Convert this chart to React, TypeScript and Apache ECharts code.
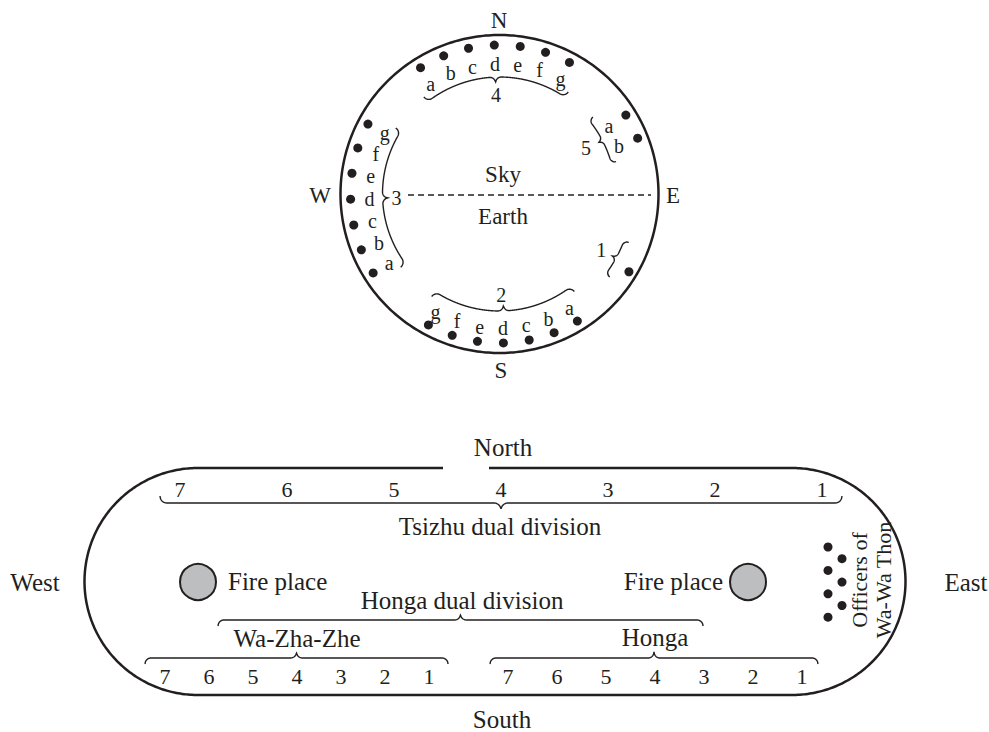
import React, { useEffect, useRef } from "react";
import * as echarts from "echarts";

// ---------------- data ----------------
const compassLetters = ["N", "E", "S", "W"];
const zoneLabels = ["Sky", "Earth"];
const bandLetters = ["a", "b", "c", "d", "e", "f", "g"];
const groupNames = ["1", "2", "3", "4", "5"];
// angular positions (degrees, counter-clockwise from East) of the dots, listed a, b, c ...
const group1Angles = [-31];
const group2Angles = [301.5, 291.5, 281.5, 271.5, 261.5, 251.5, 241.5];
const group3Angles = [212, 202, 192, 182, 172, 162, 152];
const group4Angles = [122, 112, 102, 92, 82, 72, 62];
const group5Angles = [32, 22];

const sideLabels = ["North", "South", "West", "East"];
const tsizhuClans = ["7", "6", "5", "4", "3", "2", "1"];
const wazhazheClans = ["7", "6", "5", "4", "3", "2", "1"];
const hongaClans = ["7", "6", "5", "4", "3", "2", "1"];
const divisionLabels = ["Tsizhu dual division", "Honga dual division", "Wa-Zha-Zhe", "Honga"];
const firePlaceLabel = "Fire place";
const officersLabels = ["Officers of", "Wa-Wa Thon"];
const officerCount = 7;

// ---------------- layout ----------------
const W = 989;
const H = 732;
const FONT = '"Liberation Serif", "DejaVu Serif", serif';
const INK = "#231f20";
const C = { x: 499.5, y: 194, r: 159 };
const rad = (d: number) => (d * Math.PI) / 180;
const polar = (r: number, deg: number): number[] => [C.x + r * Math.cos(rad(deg)), C.y - r * Math.sin(rad(deg))];

function braceOffset(d: number, L: number, rho: number) {
  const half = L / 2;
  const dd = Math.min(d, L - d);
  if (dd < rho) return -(rho - Math.sqrt(Math.max(0, rho * rho - (rho - dd) * (rho - dd))));
  if (dd > half - rho) {
    const e = half - dd;
    return rho - Math.sqrt(Math.max(0, rho * rho - (rho - e) * (rho - e)));
  }
  return 0;
}
function brace(L: number, rho: number, at: (s: number, off: number) => number[]) {
  const pts: number[][] = [];
  const step = 0.4;
  for (let s = 0; s <= L + 1e-6; s += step) pts.push(at(s, braceOffset(s, L, rho)));
  pts.push(at(L, braceOffset(L, L, rho)));
  return pts;
}
function arcBrace(a0: number, a1: number, R: number, rho: number) {
  const L = R * Math.abs(rad(a1 - a0));
  return brace(L, rho, (s, off) => polar(R - off, a0 + ((a1 - a0) * s) / L));
}
function hBrace(x0: number, x1: number, y: number, dir: number, rho: number) {
  const L = x1 - x0;
  return brace(L, rho, (s, off) => [x0 + s, y + dir * off]);
}

function circlePoints() {
  const pts: number[][] = [];
  for (let i = 0; i <= 360; i++) pts.push(polar(C.r, i));
  return pts;
}
function stadiumPoints() {
  const top = 468, bot = 695, cy = (top + bot) / 2, r = (bot - top) / 2;
  const lx = 198, rx = 792;
  const pts: number[][] = [[443, top], [lx, top]];
  for (let i = 1; i < 180; i++) {
    const p = rad(i);
    pts.push([lx - r * Math.sin(p), cy - r * Math.cos(p)]);
  }
  pts.push([lx, bot], [rx, bot]);
  for (let i = 1; i < 180; i++) {
    const p = rad(i);
    pts.push([rx + r * Math.sin(p), cy + r * Math.cos(p)]);
  }
  pts.push([rx, top], [489, top]);
  return pts;
}

type T = { text: string; x: number; y: number; size: number; align?: string; rot?: number };

function buildTexts(): T[] {
  const t: T[] = [];
  const compassPos = [[499, 20], [673, 195], [501, 370], [320, 195]];
  compassLetters.forEach((c, i) => t.push({ text: c, x: compassPos[i][0], y: compassPos[i][1], size: 23 }));
  t.push({ text: zoneLabels[0], x: 503, y: 174, size: 23 });
  t.push({ text: zoneLabels[1], x: 503, y: 216, size: 23 });
  const groups = [
    { angles: group1Angles, lr: 0, nr: 116, na: -28.8 },
    { angles: group2Angles, lr: 134, nr: 101, na: 271 },
    { angles: group3Angles, lr: 130, nr: 103, na: 182 },
    { angles: group4Angles, lr: 130, nr: 99, na: 92 },
    { angles: group5Angles, lr: 129, nr: 98, na: 28 },
  ];
  groups.forEach((g, gi) => {
    if (g.angles.length > 1)
      g.angles.forEach((a, i) => {
        const p = polar(g.lr, a);
        t.push({ text: bandLetters[i], x: p[0], y: p[1], size: 20 });
      });
    const n = polar(g.nr, g.na);
    t.push({ text: groupNames[gi], x: n[0], y: n[1], size: 20 });
  });
  // bottom diagram
  t.push({ text: sideLabels[0], x: 503, y: 447, size: 25 });
  t.push({ text: sideLabels[1], x: 502, y: 719, size: 25 });
  t.push({ text: sideLabels[2], x: 35, y: 582, size: 25 });
  t.push({ text: sideLabels[3], x: 966, y: 582, size: 25 });
  tsizhuClans.forEach((c, i) => t.push({ text: c, x: 180 + i * 107, y: 489, size: 22 }));
  wazhazheClans.forEach((c, i) => t.push({ text: c, x: 165 + i * 44, y: 676, size: 22 }));
  hongaClans.forEach((c, i) => t.push({ text: c, x: 508 + i * 49, y: 676, size: 22 }));
  t.push({ text: divisionLabels[0], x: 500, y: 526, size: 25 });
  t.push({ text: divisionLabels[1], x: 462, y: 600, size: 25 });
  t.push({ text: divisionLabels[2], x: 297, y: 638, size: 25 });
  t.push({ text: divisionLabels[3], x: 655, y: 637, size: 25 });
  t.push({ text: firePlaceLabel, x: 228, y: 581, size: 25, align: "left" });
  t.push({ text: firePlaceLabel, x: 723, y: 581, size: 25, align: "right" });
  t.push({ text: officersLabels[0], x: 859, y: 580, size: 22, rot: Math.PI / 2 });
  t.push({ text: officersLabels[1], x: 883, y: 580, size: 22, rot: Math.PI / 2 });
  return t;
}

function buildDots() {
  const d: number[][] = [];
  group1Angles.forEach((a) => d.push(polar(151, a)));
  [group2Angles, group3Angles, group4Angles, group5Angles].forEach((g) => g.forEach((a) => d.push(polar(149, a))));
  for (let i = 0; i < officerCount; i++) d.push([i % 2 ? 842 : 828, 547 + i * 11.7]);
  return d;
}

export default function App() {
  const ref = useRef<HTMLDivElement>(null);
  useEffect(() => {
    if (!ref.current) return;
    const chart = echarts.init(ref.current, undefined, { renderer: "svg" });
    const texts = buildTexts();
    const braces = [
      arcBrace(128, 56, 117, 6),
      arcBrace(147.5, 216.5, 117, 6),
      arcBrace(236.5, 307.5, 117, 6),
      arcBrace(39.5, 15.5, 116, 5),
      arcBrace(-20.5, -37, 133, 5),
      hBrace(160, 842, 503, 1, 7),
      hBrace(218, 703, 620, -1, 6),
      hBrace(145, 448, 658, -1, 6),
      hBrace(490, 818, 658, -1, 6),
    ];
    chart.setOption({
      animation: false,
      backgroundColor: "#ffffff",
      grid: { left: 0, right: 0, top: 0, bottom: 0 },
      xAxis: { type: "value", min: 0, max: W, show: false },
      yAxis: { type: "value", min: 0, max: H, inverse: true, show: false },
      series: [
        {
          type: "lines",
          coordinateSystem: "cartesian2d",
          polyline: true,
          silent: true,
          lineStyle: { color: INK, width: 2.5, opacity: 1 },
          data: [{ coords: circlePoints() }, { coords: stadiumPoints() }],
        },
        {
          type: "lines",
          coordinateSystem: "cartesian2d",
          polyline: true,
          silent: true,
          lineStyle: { color: INK, width: 1.4, opacity: 1 },
          data: braces.map((b) => ({ coords: b })),
        },
        {
          type: "lines",
          coordinateSystem: "cartesian2d",
          polyline: true,
          silent: true,
          lineStyle: { color: INK, width: 1.3, type: [6, 4], opacity: 1 },
          data: [{ coords: [[408, 195], [651, 195]] }],
        },
        {
          type: "scatter",
          symbol: "circle",
          symbolSize: 9,
          silent: true,
          itemStyle: { color: INK, opacity: 1 },
          data: buildDots(),
        },
        {
          type: "scatter",
          symbol: "circle",
          symbolSize: 36,
          silent: true,
          itemStyle: { color: "#bcbec0", borderColor: INK, borderWidth: 2, opacity: 1 },
          data: [[198, 582], [748, 582]],
        },
        {
          type: "custom",
          clip: false,
          silent: true,
          data: texts.map((t) => [t.x, t.y]),
          renderItem: (params: any, api: any) => {
            const t = texts[params.dataIndex];
            const p = api.coord([t.x, t.y]);
            return {
              type: "text",
              x: p[0],
              y: p[1],
              rotation: t.rot || 0,
              style: {
                text: t.text,
                fill: INK,
                fontSize: t.size,
                fontFamily: FONT,
                align: t.align || "center",
                verticalAlign: "middle",
              },
            };
          },
        },
      ],
    });
    return () => chart.dispose();
  }, []);
  return (
    <div
      ref={ref}
      style={{ position: "absolute", left: 0, top: 0, width: W + "px", height: H + "px", background: "#fff" }}
    />
  );
}
